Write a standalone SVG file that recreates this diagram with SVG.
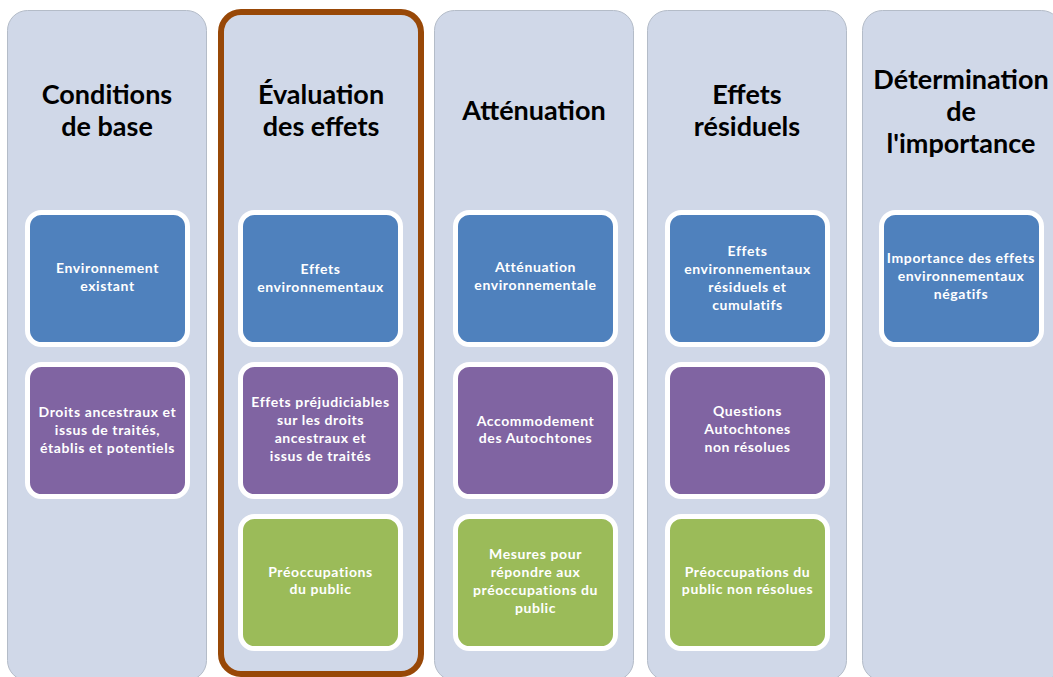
<svg xmlns="http://www.w3.org/2000/svg" width="1053" height="677" viewBox="0 0 1053 677">
<style>
.col{fill:#D0D8E8;stroke:#B4BCC8;stroke-width:1}
.hl{fill:none;stroke:#984807;stroke-width:6}
.box{stroke:#FFFFFF;stroke-width:5}
.b{fill:#4F81BD}.p{fill:#8064A2}.g{fill:#9BBB59}
.t{font-family:Lato,"Open Sans",sans-serif;font-weight:bold;font-size:27px;fill:#000;text-anchor:middle}
.s{font-family:Lato,"Open Sans",sans-serif;font-weight:bold;font-size:14px;letter-spacing:0.6px;fill:#FFFFFF;text-anchor:middle}
</style>
<rect width="1053" height="677" fill="#FFFFFF"/>
<g id="col-conditions">
<rect class="col" x="7.5" y="10.5" width="199" height="670" rx="20"/>
<text class="t" x="107" y="104">Conditions</text>
<text class="t" x="107" y="136">de base</text>
</g>
<g id="col-evaluation">
<rect class="col" x="221" y="12" width="200" height="662" rx="20"/>
<rect class="hl" x="221" y="12" width="200" height="662" rx="20"/>
<text class="t" x="321" y="104">Évaluation</text>
<text class="t" x="321" y="136">des effets</text>
</g>
<g id="col-attenuation">
<rect class="col" x="434.5" y="10.5" width="199" height="670" rx="20"/>
<text class="t" x="534" y="120">Atténuation</text>
</g>
<g id="col-residuels">
<rect class="col" x="647.5" y="10.5" width="199" height="670" rx="20"/>
<text class="t" x="747" y="104">Effets</text>
<text class="t" x="747" y="136">résiduels</text>
</g>
<g id="col-importance">
<rect class="col" x="862.5" y="10.5" width="199" height="670" rx="20"/>
<text class="t" x="961" y="89">Détermination</text>
<text class="t" x="961" y="121">de</text>
<text class="t" x="961" y="153">l'importance</text>
</g>
<g id="box-env-existant">
<rect class="box b" x="27.5" y="212.5" width="160" height="132" rx="14"/>
<text class="s" x="107.5" y="273">Environnement</text>
<text class="s" x="107.5" y="291">existant</text>
</g>
<g id="box-droits">
<rect class="box p" x="27.5" y="364.5" width="160" height="132" rx="14"/>
<text class="s" x="107.5" y="417">Droits ancestraux et</text>
<text class="s" x="107.5" y="435">issus de traités,</text>
<text class="s" x="107.5" y="453">établis et potentiels</text>
</g>
<g id="box-effets-env">
<rect class="box b" x="240.5" y="212.5" width="160" height="132" rx="14"/>
<text class="s" x="320.5" y="274">Effets</text>
<text class="s" x="320.5" y="292">environnementaux</text>
</g>
<g id="box-effets-prej">
<rect class="box p" x="240.5" y="364.5" width="160" height="132" rx="14"/>
<text class="s" x="320.5" y="407">Effets préjudiciables</text>
<text class="s" x="320.5" y="425">sur les droits</text>
<text class="s" x="320.5" y="443">ancestraux et</text>
<text class="s" x="320.5" y="461">issus de traités</text>
</g>
<g id="box-preocc">
<rect class="box g" x="240.5" y="516.5" width="160" height="132" rx="14"/>
<text class="s" x="320.5" y="577">Préoccupations</text>
<text class="s" x="320.5" y="594">du public</text>
</g>
<g id="box-att-env">
<rect class="box b" x="455.5" y="212.5" width="160" height="132" rx="14"/>
<text class="s" x="535.5" y="272">Atténuation</text>
<text class="s" x="535.5" y="290">environnementale</text>
</g>
<g id="box-accommodement">
<rect class="box p" x="455.5" y="364.5" width="160" height="132" rx="14"/>
<text class="s" x="535.5" y="426">Accommodement</text>
<text class="s" x="535.5" y="443">des Autochtones</text>
</g>
<g id="box-mesures">
<rect class="box g" x="455.5" y="516.5" width="160" height="132" rx="14"/>
<text class="s" x="535.5" y="559">Mesures pour</text>
<text class="s" x="535.5" y="577">répondre aux</text>
<text class="s" x="535.5" y="595">préoccupations du</text>
<text class="s" x="535.5" y="613">public</text>
</g>
<g id="box-effets-res">
<rect class="box b" x="667.5" y="212.5" width="160" height="132" rx="14"/>
<text class="s" x="747.5" y="256">Effets</text>
<text class="s" x="747.5" y="274">environnementaux</text>
<text class="s" x="747.5" y="292">résiduels et</text>
<text class="s" x="747.5" y="310">cumulatifs</text>
</g>
<g id="box-questions">
<rect class="box p" x="667.5" y="364.5" width="160" height="132" rx="14"/>
<text class="s" x="747.5" y="416">Questions</text>
<text class="s" x="747.5" y="434">Autochtones</text>
<text class="s" x="747.5" y="452">non résolues</text>
</g>
<g id="box-preocc-non">
<rect class="box g" x="667.5" y="516.5" width="160" height="132" rx="14"/>
<text class="s" x="747.5" y="577">Préoccupations du</text>
<text class="s" x="747.5" y="594">public non résolues</text>
</g>
<g id="box-importance">
<rect class="box b" x="881.5" y="212.5" width="160" height="132" rx="14"/>
<text class="s" x="961" y="263">Importance des effets</text>
<text class="s" x="961" y="281">environnementaux</text>
<text class="s" x="961" y="299">négatifs</text>
</g>
<g id="connectors"/>
</svg>
